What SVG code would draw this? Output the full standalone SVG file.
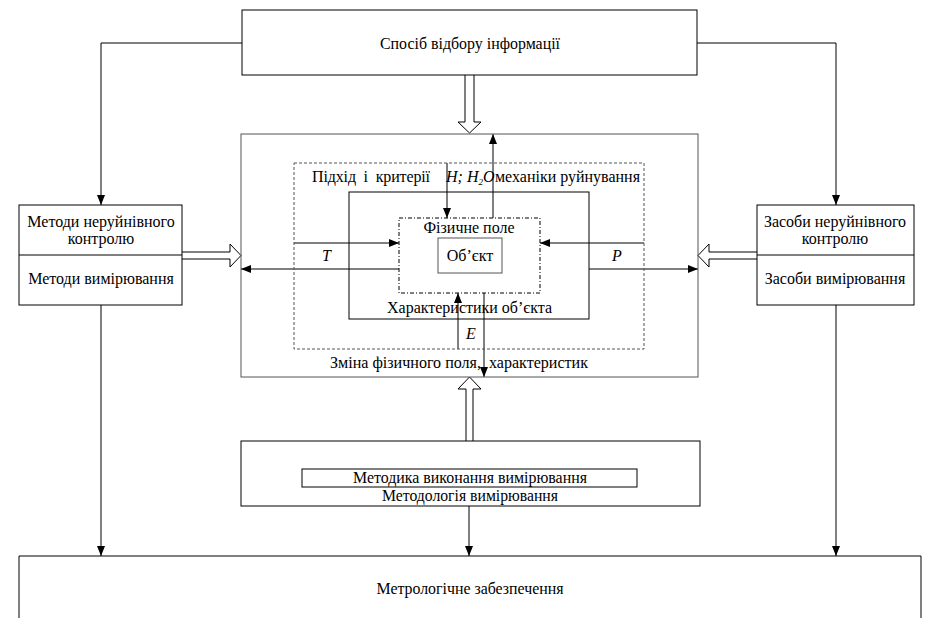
<svg xmlns="http://www.w3.org/2000/svg" width="926" height="618" viewBox="0 0 926 618">
<style>
text{font-family:"Liberation Serif","Times New Roman",serif;font-size:16px;fill:#000}
.m{text-anchor:middle}
.i{font-style:italic}
.box{fill:#fff;stroke:#000;stroke-width:1}
.gbox{fill:none;stroke:#555;stroke-width:1}
.ln{fill:none;stroke:#000;stroke-width:1}
.hol{fill:#fff;stroke:#000;stroke-width:1}
</style>
<defs>
<marker id="ah" viewBox="0 0 10 10" refX="10" refY="5" markerWidth="10" markerHeight="10" markerUnits="userSpaceOnUse" orient="auto">
<path d="M0,1 L10,5 L0,9 Z" fill="#000"/>
</marker>
</defs>

<g id="connectors">
<polyline class="ln" points="242,43 101,43 101,205" marker-end="url(#ah)"/>
<polyline class="ln" points="697,43 836,43 836,205" marker-end="url(#ah)"/>
<line class="ln" x1="101" y1="305" x2="101" y2="556" marker-end="url(#ah)"/>
<line class="ln" x1="836" y1="305" x2="836" y2="556" marker-end="url(#ah)"/>
<line class="ln" x1="469" y1="506" x2="469" y2="556" marker-end="url(#ah)"/>
<path class="hol" d="M465,75 L465,122 L458,122 L469.5,133 L481,122 L474,122 L474,75"/>
<path class="hol" d="M466,441 L466,389 L458,389 L469.5,377 L481,389 L473,389 L473,441"/>
<path class="hol" d="M182,252 L230,252 L230,244 L241,255.5 L230,267 L230,259 L182,259"/>
<path class="hol" d="M757,252 L709,252 L709,244 L698,255.5 L709,267 L709,259 L757,259"/>
<line class="ln" x1="447" y1="163" x2="447" y2="218" marker-end="url(#ah)"/>
<line class="ln" x1="493" y1="218" x2="493" y2="134" marker-end="url(#ah)"/>
<line class="ln" x1="294" y1="243" x2="399" y2="243" marker-end="url(#ah)"/>
<line class="ln" x1="644" y1="243" x2="540" y2="243" marker-end="url(#ah)"/>
<line class="ln" x1="399" y1="269" x2="241" y2="269" marker-end="url(#ah)"/>
<line class="ln" x1="589" y1="269" x2="698" y2="269" marker-end="url(#ah)"/>
<line class="ln" x1="458" y1="349" x2="458" y2="293" marker-end="url(#ah)"/>
<line class="ln" x1="484" y1="293" x2="484" y2="377" marker-end="url(#ah)"/>
</g>

<g id="sposib">
<rect class="box" x="242" y="10" width="455" height="65"/>
<text class="m" x="470" y="49" textLength="180" lengthAdjust="spacingAndGlyphs">Спосіб відбору інформації</text>
</g>

<g id="metody">
<rect class="box" x="19" y="205" width="163" height="100"/>
<line class="ln" x1="19" y1="255" x2="182" y2="255"/>
<text class="m" x="101" y="227">Методи неруйнівного</text>
<text class="m" x="101" y="244">контролю</text>
<text class="m" x="101" y="284">Методи вимірювання</text>
</g>

<g id="zasoby">
<rect class="box" x="757" y="205" width="157" height="100"/>
<line class="ln" x1="757" y1="255" x2="914" y2="255"/>
<text class="m" x="835" y="227">Засоби неруйнівного</text>
<text class="m" x="835" y="244">контролю</text>
<text class="m" x="835" y="284">Засоби вимірювання</text>
</g>

<g id="center">
<rect class="gbox" x="241" y="134" width="457" height="243"/>
<rect class="gbox" x="294" y="163" width="350" height="186" stroke-dasharray="3,2"/>
<rect x="349" y="192" width="240" height="127" fill="none" stroke="#000" stroke-width="1"/>
<text x="312" y="182" xml:space="preserve" textLength="118" lengthAdjust="spacing">Підхід  і  критерії</text>
<text class="i" x="446" y="182" font-size="14">H; H<tspan font-size="9" dy="3">2</tspan><tspan dy="-3">O</tspan></text>
<text x="495" y="182" textLength="145" lengthAdjust="spacingAndGlyphs">механіки руйнування</text>
<text x="387" y="313" textLength="165" lengthAdjust="spacingAndGlyphs">Характеристики об’єкта</text>
<text x="330" y="368" xml:space="preserve" textLength="258" lengthAdjust="spacingAndGlyphs">Зміна фізичного поля,  характеристик</text>
<text class="i" x="322" y="261">T</text>
<text class="i" x="612" y="261">P</text>
<text class="i" x="466" y="339">E</text>
</g>

<g id="pole">
<rect x="399" y="218" width="141" height="75" fill="#fff" stroke="#000" stroke-width="1" stroke-dasharray="4,2,1,2"/>
<text class="m" x="469" y="233">Фізичне поле</text>
</g>

<g id="obiekt">
<rect x="438" y="238" width="64" height="35" fill="#fff" stroke="#555" stroke-width="1"/>
<text class="m" x="470" y="261">Об’єкт</text>
</g>

<g id="metodologia">
<rect class="box" x="241" y="441" width="459" height="65"/>
<rect class="box" x="302" y="469" width="335" height="18"/>
<text class="m" x="470" y="483" textLength="234" lengthAdjust="spacingAndGlyphs">Методика виконання вимірювання</text>
<text class="m" x="470" y="501" textLength="176" lengthAdjust="spacingAndGlyphs">Методологія вимірювання</text>
</g>

<g id="metrologia">
<path class="ln" d="M19,618 L19,556 L921,556 L921,618"/>
<text class="m" x="470" y="594" textLength="187" lengthAdjust="spacingAndGlyphs">Метрологічне забезпечення</text>
</g>
</svg>
